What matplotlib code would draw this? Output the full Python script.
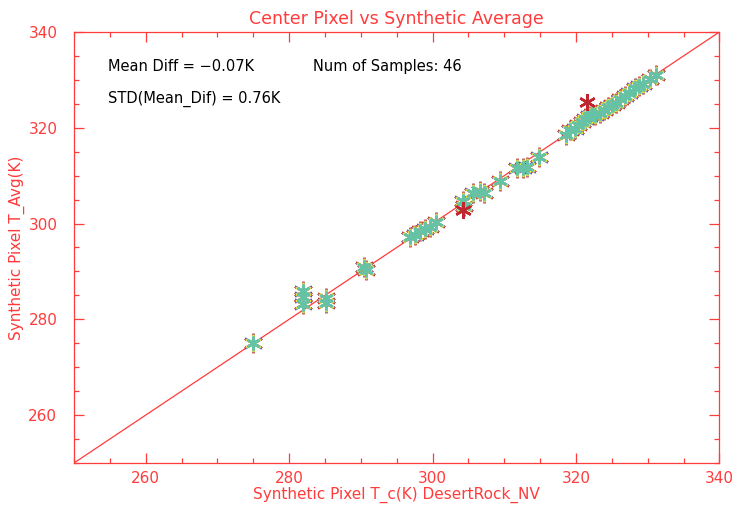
import numpy as np
import matplotlib
matplotlib.use("Agg")
import matplotlib.pyplot as plt
from matplotlib.ticker import MultipleLocator

# center pixel temperature T_c (K) for each sample
t_center = [275.0, 282.0, 282.0, 282.0, 285.1, 285.1, 290.4, 290.7,
            296.8, 297.6, 298.3, 299.0, 299.7, 300.5, 304.3, 304.4,
            305.7, 306.6, 307.2, 309.4, 311.8, 312.6, 313.2, 314.8,
            318.6, 319.2, 319.8, 320.3, 320.8, 321.3, 321.8, 322.2,
            322.7, 323.3, 323.9, 324.4, 325.0, 325.6, 326.2, 326.8,
            327.4, 328.2, 328.8, 329.4, 330.3, 331.2]
# synthetic average T_avg (K)
t_avg = [275.0, 286.0, 284.6, 283.2, 284.4, 283.5, 290.9, 290.2,
         297.2, 297.6, 298.4, 298.8, 299.3, 300.4, 304.7, 303.6,
         306.3, 306.7, 306.3, 308.9, 311.6, 311.6, 311.9, 314.0,
         318.5, 319.5, 319.8, 320.6, 321.2, 321.8, 322.4, 322.9,
         322.6, 323.0, 323.7, 324.3, 324.8, 325.2, 326.0, 326.6,
         327.2, 328.3, 328.8, 329.2, 330.2, 331.0]

# window members that stray from the rest (dark red)
out_center = [304.2, 321.5]
out_avg = [302.8, 325.3]

mean_diff = -0.07
std_diff = 0.76
n_samples = 46

red = "#ff3b3b"
layers = [("#c0262d", 14), ("#f07a3a", 13), ("#6f7fc8", 12.5),
          ("#e8e23a", 11.5), ("#66c2a5", 10)]

fig = plt.figure(figsize=(7.34, 5.08), dpi=100)
ax = fig.add_axes([0.1008, 0.0886, 0.8793, 0.8484])

ax.plot([250, 340], [250, 340], color=red, lw=0.9, zorder=1)

for col, ms in layers:
    ax.plot(t_center, t_avg, ls="none", marker=(6, 2, 0), ms=ms,
            mec=col, mew=1.8, zorder=2)
ax.plot(out_center, out_avg, ls="none", marker=(6, 2, 0), ms=12,
        mec="#c0262d", mew=1.8, zorder=3)

ax.set_xlim(250, 340)
ax.set_ylim(250, 340)
ax.xaxis.set_major_locator(MultipleLocator(20))
ax.xaxis.set_minor_locator(MultipleLocator(5))
ax.yaxis.set_major_locator(MultipleLocator(20))
ax.yaxis.set_minor_locator(MultipleLocator(5))
ax.tick_params(which="both", direction="in", top=True, right=True,
               color=red, labelcolor=red, labelsize=11, width=0.9)
ax.tick_params(axis="x", which="major", length=7, pad=6)
ax.tick_params(axis="y", which="major", length=7, pad=12)
ax.tick_params(which="minor", length=3.5)
for s in ax.spines.values():
    s.set_color(red)
    s.set_linewidth(0.9)

ax.set_title("Center Pixel vs Synthetic Average", color=red,
             fontsize=12.5, pad=6)
ax.set_xlabel("Synthetic Pixel T_c(K) DesertRock_NV", color=red,
              fontsize=11, labelpad=0)
ax.set_ylabel("Synthetic Pixel T_Avg(K)", color=red, fontsize=11)
ax.yaxis.set_label_coords(-0.076, 0.5)

ax.text(254.7, 332.9, "Mean Diff = \u2212%.2fK" % abs(mean_diff),
        fontsize=10.5, va="center")
ax.text(283.3, 332.9, "Num of Samples: %d" % n_samples,
        fontsize=10.5, va="center")
ax.text(254.7, 326.0, "STD(Mean_Dif) = %.2fK" % std_diff,
        fontsize=10.5, va="center")

fig.savefig("out.png", dpi=100)
